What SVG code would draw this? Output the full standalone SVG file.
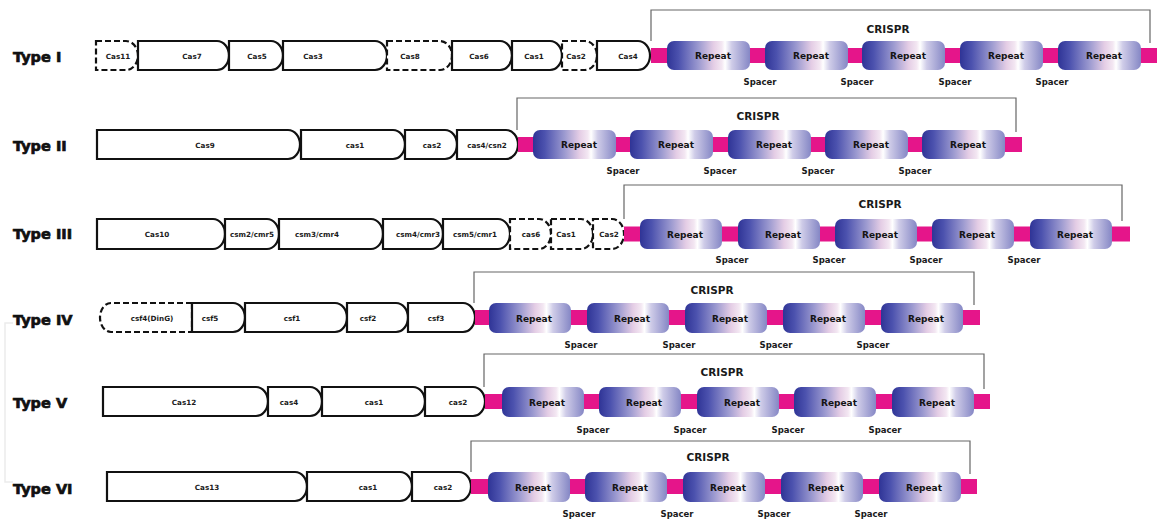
<svg xmlns="http://www.w3.org/2000/svg" width="1159" height="524" viewBox="0 0 1159 524">
<style>
.gene{fill:#fff;stroke:#111;stroke-width:2.2}
.dash{stroke-dasharray:6 3}
.strip{fill:#e5158a}
.rep{fill:url(#rg)}
.br{fill:none;stroke:#666;stroke-width:1.2}
text{font-family:"DejaVu Sans",sans-serif;font-weight:bold;fill:#1a1a1a}
.g{font-size:7.2px;text-anchor:middle}
.t{font-size:14.5px;fill:#111;stroke:#111;stroke-width:0.7}
.r{font-size:9px;text-anchor:middle;fill:#141414}
.s{font-size:8.5px;text-anchor:middle}
.c{font-size:10.5px;text-anchor:middle}
</style>
<defs>
<linearGradient id="rg" x1="0" y1="0" x2="1" y2="0">
<stop offset="0" stop-color="#2f3496"/>
<stop offset="0.14" stop-color="#4c52ae"/>
<stop offset="0.38" stop-color="#9c9ad0"/>
<stop offset="0.56" stop-color="#e4cde5"/>
<stop offset="0.66" stop-color="#f3e7f2"/>
<stop offset="0.70" stop-color="#ffffff"/>
<stop offset="0.78" stop-color="#cfcce8"/>
<stop offset="1" stop-color="#8587c5"/>
</linearGradient>
</defs>
<rect width="1159" height="524" fill="#fff"/>
<path d="M13,323 H5 V482 H13" fill="none" stroke="#ebebeb" stroke-width="1.5"/>

<g id="connectors">
<path class="br" d="M651,41 V10 H1150 V43"/>
<path class="br" d="M517,130 V98 H1016 V132"/>
<path class="br" d="M624,219 V185 H1122 V221"/>
<path class="br" d="M474,303 V272 H974 V305"/>
<path class="br" d="M484,387 V354 H984 V389"/>
<path class="br" d="M471,472 V441 H970 V474"/>
</g>

<!-- Type I -->
<g id="type1">
<text class="t" x="13" y="62">Type I</text>
<g id="t1-cas11"><path class="gene dash" d="M96,41 H126 A12,14.5 0 0 1 126,70 H96 Z"/><text class="g" x="118" y="58.5">Cas11</text></g>
<g id="t1-cas7"><path class="gene" d="M138,41 H217 A12,14.5 0 0 1 217,70 H138 Z"/><text class="g" x="192" y="58.5">Cas7</text></g>
<g id="t1-cas5"><path class="gene" d="M229,41 H271 A12,14.5 0 0 1 271,70 H229 Z"/><text class="g" x="257" y="58.5">Cas5</text></g>
<g id="t1-cas3"><path class="gene" d="M283,41 H375 A12,14.5 0 0 1 375,70 H283 Z"/><text class="g" x="313" y="58.5">Cas3</text></g>
<g id="t1-cas8"><path class="gene dash" d="M387,41 H440 A12,14.5 0 0 1 440,70 H387 Z"/><text class="g" x="410" y="58.5">Cas8</text></g>
<g id="t1-cas6"><path class="gene" d="M452,41 H500 A12,14.5 0 0 1 500,70 H452 Z"/><text class="g" x="479" y="58.5">Cas6</text></g>
<g id="t1-cas1"><path class="gene" d="M512,41 H550 A12,14.5 0 0 1 550,70 H512 Z"/><text class="g" x="534" y="58.5">Cas1</text></g>
<g id="t1-cas2"><path class="gene dash" d="M562,41 H585 A12,14.5 0 0 1 585,70 H562 Z"/><text class="g" x="576" y="58.5">Cas2</text></g>
<g id="t1-cas4"><path class="gene" d="M597,41 H638 A12,14.5 0 0 1 638,70 H597 Z"/><text class="g" x="628" y="58.5">Cas4</text></g>
<g id="t1-crispr">
<rect class="strip" x="651" y="48" width="506" height="15"/>
<rect class="rep" x="667" y="41" width="83" height="29" rx="7"/>
<rect class="rep" x="765" y="41" width="83" height="29" rx="7"/>
<rect class="rep" x="862" y="41" width="83" height="29" rx="7"/>
<rect class="rep" x="960" y="41" width="83" height="29" rx="7"/>
<rect class="rep" x="1058" y="41" width="83" height="29" rx="7"/>
<text class="r" x="713" y="59">Repeat</text><text class="r" x="811" y="59">Repeat</text><text class="r" x="908" y="59">Repeat</text><text class="r" x="1006" y="59">Repeat</text><text class="r" x="1104" y="59">Repeat</text>
<text class="s" x="760" y="85">Spacer</text><text class="s" x="857" y="85">Spacer</text><text class="s" x="955" y="85">Spacer</text><text class="s" x="1052" y="85">Spacer</text>
<text class="c" x="888" y="33">CRISPR</text>
</g>
</g>

<!-- Type II -->
<g id="type2">
<text class="t" x="13" y="151">Type II</text>
<g id="t2-cas9"><path class="gene" d="M97,130 H288 A12,14.5 0 0 1 288,159 H97 Z"/><text class="g" x="205" y="147.5">Cas9</text></g>
<g id="t2-cas1"><path class="gene" d="M301,130 H393 A12,14.5 0 0 1 393,159 H301 Z"/><text class="g" x="355" y="147.5">cas1</text></g>
<g id="t2-cas2"><path class="gene" d="M405,130 H445 A12,14.5 0 0 1 445,159 H405 Z"/><text class="g" x="432" y="147.5">cas2</text></g>
<g id="t2-cas4"><path class="gene" d="M457,130 H506 A12,14.5 0 0 1 506,159 H457 Z"/><text class="g" x="487" y="147.5">cas4/csn2</text></g>
<g id="t2-crispr">
<rect class="strip" x="518" y="137" width="504" height="15"/>
<rect class="rep" x="533" y="130" width="83" height="29" rx="7"/>
<rect class="rep" x="630" y="130" width="83" height="29" rx="7"/>
<rect class="rep" x="728" y="130" width="83" height="29" rx="7"/>
<rect class="rep" x="825" y="130" width="83" height="29" rx="7"/>
<rect class="rep" x="922" y="130" width="83" height="29" rx="7"/>
<text class="r" x="579" y="148">Repeat</text><text class="r" x="676" y="148">Repeat</text><text class="r" x="774" y="148">Repeat</text><text class="r" x="871" y="148">Repeat</text><text class="r" x="968" y="148">Repeat</text>
<text class="s" x="623" y="174">Spacer</text><text class="s" x="720" y="174">Spacer</text><text class="s" x="818" y="174">Spacer</text><text class="s" x="915" y="174">Spacer</text>
<text class="c" x="758" y="120">CRISPR</text>
</g>
</g>

<!-- Type III -->
<g id="type3">
<text class="t" x="13" y="239">Type III</text>
<g id="t3-cas10"><path class="gene" d="M97,219 H213 A12,15 0 0 1 213,249 H97 Z"/><text class="g" x="157" y="237">Cas10</text></g>
<g id="t3-csm2"><path class="gene" d="M225,219 H267 A12,15 0 0 1 267,249 H225 Z"/><text class="g" x="252" y="237">csm2/cmr5</text></g>
<g id="t3-csm3"><path class="gene" d="M279,219 H371 A12,15 0 0 1 371,249 H279 Z"/><text class="g" x="317" y="237">csm3/cmr4</text></g>
<g id="t3-csm4"><path class="gene" d="M383,219 H431 A12,15 0 0 1 431,249 H383 Z"/><text class="g" x="418" y="237">csm4/cmr3</text></g>
<g id="t3-csm5"><path class="gene" d="M443,219 H498 A12,15 0 0 1 498,249 H443 Z"/><text class="g" x="475" y="237">csm5/cmr1</text></g>
<g id="t3-cas6"><path class="gene dash" d="M510,219 H539 A12,15 0 0 1 539,249 H510 Z"/><text class="g" x="531" y="237">cas6</text></g>
<g id="t3-cas1"><path class="gene dash" d="M551,219 H581 A12,15 0 0 1 581,249 H551 Z"/><text class="g" x="566" y="237">Cas1</text></g>
<g id="t3-cas2"><path class="gene dash" d="M593,219 H612 A12,15 0 0 1 612,249 H593 Z"/><text class="g" x="609" y="237">Cas2</text></g>
<g id="t3-crispr">
<rect class="strip" x="624" y="226.5" width="506" height="15"/>
<rect class="rep" x="640" y="219" width="82" height="30" rx="7"/>
<rect class="rep" x="738" y="219" width="82" height="30" rx="7"/>
<rect class="rep" x="835" y="219" width="82" height="30" rx="7"/>
<rect class="rep" x="932" y="219" width="82" height="30" rx="7"/>
<rect class="rep" x="1030" y="219" width="82" height="30" rx="7"/>
<text class="r" x="685" y="237.5">Repeat</text><text class="r" x="783" y="237.5">Repeat</text><text class="r" x="880" y="237.5">Repeat</text><text class="r" x="977" y="237.5">Repeat</text><text class="r" x="1075" y="237.5">Repeat</text>
<text class="s" x="732" y="263">Spacer</text><text class="s" x="829" y="263">Spacer</text><text class="s" x="926" y="263">Spacer</text><text class="s" x="1024" y="263">Spacer</text>
<text class="c" x="880" y="208">CRISPR</text>
</g>
</g>

<!-- Type IV -->
<g id="type4">
<text class="t" x="13" y="325">Type IV</text>
<g id="t4-csf4"><path class="gene dash" d="M192,303 H111 A11,14.5 0 0 0 111,332 H192 Z"/><text class="g" x="152" y="320.5">csf4(DinG)</text></g>
<g id="t4-csf5"><path class="gene" d="M192,303 H233 A12,14.5 0 0 1 233,332 H192 Z"/><text class="g" x="210" y="320.5">csf5</text></g>
<g id="t4-csf1"><path class="gene" d="M245,303 H335 A12,14.5 0 0 1 335,332 H245 Z"/><text class="g" x="292" y="320.5">csf1</text></g>
<g id="t4-csf2"><path class="gene" d="M347,303 H396 A12,14.5 0 0 1 396,332 H347 Z"/><text class="g" x="368" y="320.5">csf2</text></g>
<g id="t4-csf3"><path class="gene" d="M408,303 H463 A12,14.5 0 0 1 463,332 H408 Z"/><text class="g" x="436" y="320.5">csf3</text></g>
<g id="t4-crispr">
<rect class="strip" x="475" y="310" width="505" height="15"/>
<rect class="rep" x="489" y="303" width="82" height="30" rx="7"/>
<rect class="rep" x="587" y="303" width="82" height="30" rx="7"/>
<rect class="rep" x="685" y="303" width="82" height="30" rx="7"/>
<rect class="rep" x="783" y="303" width="82" height="30" rx="7"/>
<rect class="rep" x="881" y="303" width="82" height="30" rx="7"/>
<text class="r" x="534" y="321.5">Repeat</text><text class="r" x="632" y="321.5">Repeat</text><text class="r" x="730" y="321.5">Repeat</text><text class="r" x="828" y="321.5">Repeat</text><text class="r" x="926" y="321.5">Repeat</text>
<text class="s" x="581" y="348">Spacer</text><text class="s" x="679" y="348">Spacer</text><text class="s" x="776" y="348">Spacer</text><text class="s" x="873" y="348">Spacer</text>
<text class="c" x="712" y="294">CRISPR</text>
</g>
</g>

<!-- Type V -->
<g id="type5">
<text class="t" x="13" y="408">Type V</text>
<g id="t5-cas12"><path class="gene" d="M103,387 H256 A12,14.5 0 0 1 256,416 H103 Z"/><text class="g" x="184" y="404.5">Cas12</text></g>
<g id="t5-cas4"><path class="gene" d="M268,387 H310 A12,14.5 0 0 1 310,416 H268 Z"/><text class="g" x="289" y="404.5">cas4</text></g>
<g id="t5-cas1"><path class="gene" d="M322,387 H413 A12,14.5 0 0 1 413,416 H322 Z"/><text class="g" x="374" y="404.5">cas1</text></g>
<g id="t5-cas2"><path class="gene" d="M425,387 H473 A12,14.5 0 0 1 473,416 H425 Z"/><text class="g" x="458" y="404.5">cas2</text></g>
<g id="t5-crispr">
<rect class="strip" x="485" y="394" width="505" height="15"/>
<rect class="rep" x="502" y="387" width="82" height="30" rx="7"/>
<rect class="rep" x="599" y="387" width="82" height="30" rx="7"/>
<rect class="rep" x="697" y="387" width="82" height="30" rx="7"/>
<rect class="rep" x="794" y="387" width="82" height="30" rx="7"/>
<rect class="rep" x="892" y="387" width="82" height="30" rx="7"/>
<text class="r" x="547" y="405.5">Repeat</text><text class="r" x="644" y="405.5">Repeat</text><text class="r" x="742" y="405.5">Repeat</text><text class="r" x="839" y="405.5">Repeat</text><text class="r" x="937" y="405.5">Repeat</text>
<text class="s" x="593" y="433">Spacer</text><text class="s" x="690" y="433">Spacer</text><text class="s" x="788" y="433">Spacer</text><text class="s" x="885" y="433">Spacer</text>
<text class="c" x="722" y="376">CRISPR</text>
</g>
</g>

<!-- Type VI -->
<g id="type6">
<text class="t" x="13" y="494">Type VI</text>
<g id="t6-cas13"><path class="gene" d="M107,472 H295 A12,14.5 0 0 1 295,501 H107 Z"/><text class="g" x="207" y="489.5">Cas13</text></g>
<g id="t6-cas1"><path class="gene" d="M307,472 H400 A12,14.5 0 0 1 400,501 H307 Z"/><text class="g" x="368" y="489.5">cas1</text></g>
<g id="t6-cas2"><path class="gene" d="M412,472 H459 A12,14.5 0 0 1 459,501 H412 Z"/><text class="g" x="443" y="489.5">cas2</text></g>
<g id="t6-crispr">
<rect class="strip" x="471" y="479" width="506" height="15"/>
<rect class="rep" x="488" y="472" width="82" height="30" rx="7"/>
<rect class="rep" x="585" y="472" width="82" height="30" rx="7"/>
<rect class="rep" x="683" y="472" width="82" height="30" rx="7"/>
<rect class="rep" x="781" y="472" width="82" height="30" rx="7"/>
<rect class="rep" x="879" y="472" width="82" height="30" rx="7"/>
<text class="r" x="533" y="490.5">Repeat</text><text class="r" x="630" y="490.5">Repeat</text><text class="r" x="728" y="490.5">Repeat</text><text class="r" x="826" y="490.5">Repeat</text><text class="r" x="924" y="490.5">Repeat</text>
<text class="s" x="579" y="517">Spacer</text><text class="s" x="677" y="517">Spacer</text><text class="s" x="774" y="517">Spacer</text><text class="s" x="871" y="517">Spacer</text>
<text class="c" x="708" y="461">CRISPR</text>
</g>
</g>
</svg>
